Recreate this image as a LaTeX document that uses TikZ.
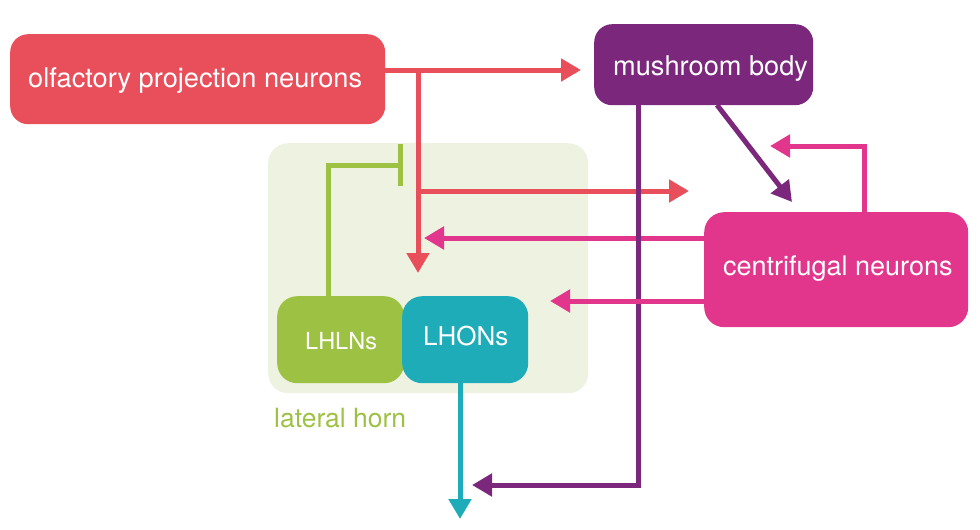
\documentclass[tikz,border=0pt]{standalone}
\usepackage{fontspec}
\setmainfont{TeX Gyre Heros}
\usetikzlibrary{arrows.meta}
\definecolor{cRed}{HTML}{E94F5B}
\definecolor{cPurple}{HTML}{7A277C}
\definecolor{cPink}{HTML}{E2368C}
\definecolor{cGreen}{HTML}{9DC243}
\definecolor{cTeal}{HTML}{1EADB8}
\definecolor{cLH}{HTML}{EEF2E1}
\tikzset{
  box/.style={draw=none, rounded corners=18pt, inner sep=0pt, anchor=north west},
  lbl/.style={text=white, inner sep=0pt, anchor=base west},
  conn/.style={line width=5pt, -{Triangle[length=20pt,width=22pt]}},
  inhib/.style={line width=5pt, -{Bar[width=42pt]}},
}
\begin{document}
\begin{tikzpicture}[x=1pt,y=-1pt]
\useasboundingbox (0,0) rectangle (980,530);
% lateral horn background
\node[box, fill=cLH, rounded corners=20pt, minimum width=320pt, minimum height=250pt] (lh) at (268,143) {};
\node[inner sep=0pt, anchor=base west, text=cGreen, font=\fontsize{26.5}{30}\selectfont] (lhtxt) at (274,427) {lateral horn};
% boxes
\node[box, fill=cRed, minimum width=375pt, minimum height=90pt] (opn) at (10,34) {};
\node[lbl, font=\fontsize{27.2}{30}\selectfont] (opntxt) at (28,87) {olfactory projection neurons};
\node[box, fill=cPurple, minimum width=219pt, minimum height=81pt] (mb) at (594,24) {};
\node[lbl, font=\fontsize{27.2}{30}\selectfont] (mbtxt) at (613,75) {mushroom body};
\node[box, fill=cPink, rounded corners=20pt, minimum width=264pt, minimum height=115pt] (cn) at (704,212) {};
\node[lbl, font=\fontsize{27}{30}\selectfont] (cntxt) at (723,275) {centrifugal neurons};
\node[box, fill=cGreen, rounded corners=20pt, minimum width=127pt, minimum height=87pt] (lhln) at (277,296) {};
\node[lbl, font=\fontsize{23.5}{28}\selectfont] (lhlntxt) at (305,349) {LHLNs};
\node[box, fill=cTeal, rounded corners=20pt, minimum width=126pt, minimum height=87pt] (lhon) at (402,296) {};
\node[lbl, font=\fontsize{26}{30}\selectfont] (lhontxt) at (423,345) {LHONs};
% coordinates
\coordinate (opnR) at (385,70);
\coordinate (mbIn) at (581,70);
\coordinate (split) at (418,70);
\coordinate (lhIn) at (418,273);
\coordinate (branch) at (418,191);
\coordinate (redEnd) at (689,191);
\coordinate (lnTop) at (328,296);
\coordinate (lnCorner) at (328,165);
\coordinate (lnBar) at (403,165);
\coordinate (cnL1) at (704,238);
\coordinate (cnIn1) at (424,238);
\coordinate (cnL2) at (704,301);
\coordinate (cnIn2) at (550,301);
\coordinate (cnTop) at (864,212);
\coordinate (cnCorner) at (864,146);
\coordinate (cnFb) at (770,146);
\coordinate (mbBot) at (638,105);
\coordinate (mbCorner) at (638,485);
\coordinate (mbOut) at (472,485);
\coordinate (mbDiagS) at (717,105);
\coordinate (mbDiagE) at (792,202);
\coordinate (lhonBot) at (460,383);
\coordinate (lhonOut) at (460,519);
% connectors
\draw[conn, cRed] (opnR) -- (mbIn);
\draw[conn, cRed] (split) -- (lhIn);
\draw[conn, cRed] (branch) -- (redEnd);
\draw[inhib, cGreen] (lnTop) -- (lnCorner) -- (lnBar);
\draw[conn, cPink] (cnL1) -- (cnIn1);
\draw[conn, cPurple] (mbBot) -- (mbCorner) -- (mbOut);
\draw[conn, cPurple] (mbDiagS) -- (mbDiagE);
\draw[conn, cPink] (cnL2) -- (cnIn2);
\draw[conn, cPink] (cnTop) -- (cnCorner) -- (cnFb);
\draw[conn, cTeal] (lhonBot) -- (lhonOut);
\end{tikzpicture}
\end{document}
